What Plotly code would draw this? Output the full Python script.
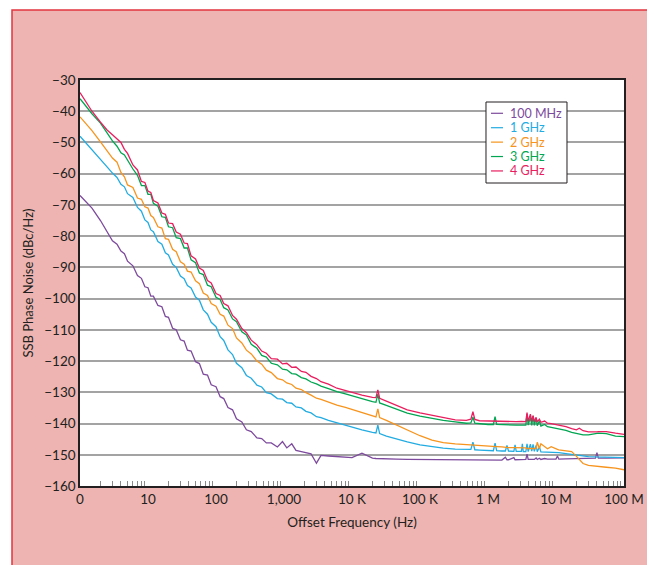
import plotly.graph_objects as go

# Offset frequency grid (Hz)
freq_hz = [
    1, 1.5, 2, 2.5, 3, 3.5, 4, 4.5, 5, 6,
    7, 8, 9, 10, 11, 12, 14, 16, 18, 20,
    23, 26, 30, 34, 38, 43, 50, 57, 65, 75,
    85, 100, 115, 130, 150, 175, 200, 240, 280, 330,
    400, 470, 550, 650, 800, 950, 1100, 1300, 1500, 1800,
    2100, 2500, 3000, 3500, 4500, 6000, 8000, 10e3, 14e3, 20e3,
    22.5e3, 24e3, 25.5e3, 32e3, 45e3, 65e3, 100e3, 150e3, 220e3, 330e3,
    480e3, 560e3, 600e3, 640e3, 750e3, 1e6, 1.2e6, 1.27e6, 1.34e6, 1.6e6,
    1.8e6, 1.9e6, 2.0e6, 2.4e6, 2.5e6, 2.6e6, 3.1e6, 3.2e6, 3.3e6, 3.6e6,
    3.75e6, 3.9e6, 4.2e6, 4.4e6, 4.6e6, 4.8e6, 5.1e6, 5.3e6, 5.7e6, 6.0e6,
    6.8e6, 7.5e6, 8.5e6, 10e6, 10.5e6, 11e6, 14e6, 17e6, 20e6, 22e6,
    25e6, 30e6, 38e6, 40e6, 42e6, 55e6, 75e6, 100e6,
]

pn_100mhz = [
    -67, -71, -75, -78.5, -81.5, -82.6, -84.8, -85.6, -88, -89.5,
    -92.6, -93.5, -96.2, -96.5, -99.2, -99.2, -102.2, -102.6, -105.7, -106,
    -109.5, -110, -113.2, -113.6, -116.5, -116.8, -120.2, -120.8, -124.2, -124.5,
    -127.6, -128.2, -131.4, -132, -134.9, -135.6, -138.5, -139.5, -142, -142.6,
    -144.6, -144.8, -146.2, -146.2, -147.5, -145.8, -147.8, -146.5, -148.6, -149,
    -149.3, -149.7, -152.7, -150.2, -150.4, -150.6, -150.8, -150.9, -149.5, -151.1,
    -151.2, -151.2, -151.2, -151.3, -151.4, -151.5, -151.5, -151.6, -151.7, -151.7,
    -151.7, -151.7, -151.7, -151.7, -151.7, -151.7, -151.7, -151.7, -151.7, -151.7,
    -150.8, -151.6, -151.6, -150.9, -151.6, -151.6, -151.6, -151.6, -151.6, -151.5,
    -149.8, -151.5, -151.5, -151.5, -151.5, -151.5, -151.0, -151.5, -151.1, -151.5,
    -151.2, -151.4, -151.4, -151.4, -150.4, -151.4, -151.3, -151.3, -151.3, -151.2,
    -151.2, -151.1, -151.1, -149.3, -151.1, -151.1, -151.0, -151.0,
]

pn_1ghz = [
    -48, -52.2, -55.5, -57.8, -59.8, -61.2, -63.4, -64.2, -66.4, -67.6,
    -70.8, -72, -74.8, -75.6, -78, -78.6, -81.7, -82.6, -85.3, -86,
    -89, -90, -92.8, -93.6, -95.8, -96.6, -99.5, -100.5, -103.6, -105,
    -107.6, -109, -112.2, -113.4, -116.4, -117.9, -120.7, -122.1, -124.6, -125.5,
    -127.7, -128.3, -130.1, -130.5, -132, -132.2, -133.3, -133.5, -134.7, -135,
    -136.1, -136.6, -137.8, -138.1, -139, -139.8, -140.5, -141, -142, -142.8,
    -143, -140.5, -143.2, -144, -145, -145.9, -146.8, -147.4, -147.9, -148.2,
    -148.3, -148.3, -146, -148.4, -148.5, -148.6, -148.7, -146.3, -148.7, -148.8,
    -148.8, -147, -148.8, -148.9, -146.8, -148.9, -148.9, -146.5, -149, -149,
    -146.5, -149, -146.6, -148.8, -146.7, -148.9, -147, -149, -147.5, -149.1,
    -149.1, -149.2, -149.2, -149.3, -149.3, -149.3, -149.6, -149.9, -150.1, -150.2,
    -150.3, -150.6, -150.7, -150.7, -150.7, -150.8, -150.9, -150.9,
]

pn_2ghz = [
    -41.8, -46.2, -49.8, -52.5, -55, -56.3, -59.6, -61, -63.6, -64.4,
    -67.8, -68.2, -70.6, -71, -73.4, -74, -77, -77.4, -80.8, -81,
    -84.2, -85, -88.2, -89, -91.2, -91.5, -94.3, -95.2, -98.2, -99,
    -101.6, -102.4, -105, -105.6, -108.5, -109.6, -112.6, -114.2, -116.5, -117.7,
    -120, -121, -122.9, -123.7, -125.6, -126, -127, -127.5, -128.7, -129.1,
    -130.1, -130.9, -131.9, -132.3, -133.2, -134.1, -134.8, -135.5, -136.5, -137.6,
    -137.9, -135.3, -138.1, -139, -140.4, -142, -143.9, -145.3, -146.1, -146.5,
    -146.8, -146.9, -146.9, -147, -147.1, -147.3, -147.4, -147.4, -147.4, -147.5,
    -147.7, -147.7, -147.7, -147.7, -147.7, -147.7, -147.8, -147.8, -147.8, -147.8,
    -148, -148, -148, -148, -148, -148, -148, -146, -148, -146.5,
    -147.3, -148.1, -147.4, -148.3, -148.3, -148.4, -148.6, -149, -150.5, -151.5,
    -152.8, -153.4, -153.7, -153.7, -153.8, -154, -154.3, -154.8,
]

pn_3ghz = [
    -36, -40.8, -43.8, -47, -49.5, -51.2, -53.3, -54, -55.8, -58.5,
    -60.5, -63.8, -63.8, -66.6, -66.6, -69.5, -70.4, -73.8, -74, -77,
    -77.3, -80.5, -80.8, -83.8, -83.8, -87.6, -88.5, -91.8, -92.3, -95.7,
    -96.2, -99.6, -100.3, -102.9, -103.6, -106.5, -107.4, -110.6, -111.6, -114.6,
    -115.9, -118.2, -118.7, -120.7, -121.2, -122.6, -122.8, -124, -124.2, -125.3,
    -125.7, -126.7, -127.3, -128, -128.8, -129.8, -130.5, -131, -132, -133,
    -133.2, -130.6, -133.4, -134.2, -135.5, -136.7, -137.6, -138.4, -139, -139.5,
    -139.9, -139.8, -138, -139.9, -140.1, -140.3, -140.3, -137.8, -140.3, -140.4,
    -140.5, -140.5, -140.5, -140.5, -140.5, -140.5, -140.5, -140.5, -140.5, -140.5,
    -137, -140.5, -138, -140.6, -137.5, -140.6, -138.3, -140.7, -139.2, -140.8,
    -140.3, -141, -141.2, -141.5, -141.6, -141.7, -142.2, -142.8, -143.2, -143.4,
    -143.6, -143.6, -143.2, -143.1, -143.1, -143.2, -144, -144.2,
]

pn_4ghz = [
    -34, -40, -43.5, -46, -47.5, -48.8, -50, -52.2, -53.5, -57.2,
    -58.8, -62.5, -62.8, -65.6, -66, -68.6, -69.4, -72.6, -73, -75.8,
    -76, -78.7, -79.4, -82.2, -82.4, -86.3, -87.3, -90.2, -91, -94.2,
    -95, -98.4, -99, -101.6, -102.3, -105.4, -106.6, -109.6, -110.9, -113.3,
    -114.8, -116.8, -117.5, -119.2, -119.4, -120.9, -120.7, -122, -121.9, -123.3,
    -123.6, -124.9, -125.6, -126.6, -127.4, -128.7, -129.5, -130.2, -130.9, -131.6,
    -131.7, -129.2, -131.9, -132.8, -134.2, -135.6, -136.6, -137.4, -138.2, -138.8,
    -139, -138.6, -136.2, -138.7, -139.1, -139.2, -139.3, -139.3, -139.3, -139.4,
    -139.4, -139.4, -139.4, -139.4, -139.4, -139.4, -139.3, -139.3, -139.3, -139.4,
    -136.5, -139.3, -137, -139.3, -137.5, -139.4, -138, -139.5, -138.6, -139.6,
    -139.2, -139.9, -140, -140.3, -140.4, -140.5, -141, -141.6, -142, -141.5,
    -142.3, -142.7, -142.8, -142.7, -142.6, -142.6, -143.1, -143.5,
]

series_names = ["100 MHz", "1 GHz", "2 GHz", "3 GHz", "4 GHz"]
series_values = [pn_100mhz, pn_1ghz, pn_2ghz, pn_3ghz, pn_4ghz]
series_colors = ["#7D4A9D", "#22ACE2", "#F7941D", "#00A651", "#E91E5F"]

x_tickvals = [1, 10, 100, 1e3, 1e4, 1e5, 1e6, 1e7, 1e8]
x_ticktext = ["0", "10", "100", "1,000", "10 K", "100 K", "1 M", "10 M", "100 M"]
x_minorvals = [m * 10 ** d for d in range(8) for m in range(2, 10)]

FONT = "Lato, 'Open Sans', sans-serif"
INK = "#231F20"

fig = go.Figure()
for name, vals, col in zip(series_names, series_values, series_colors):
    fig.add_trace(go.Scatter(
        x=freq_hz, y=vals, mode="lines", name=name,
        line=dict(color=col, width=1.3), showlegend=False,
    ))

# custom compact legend (box, short line keys, coloured labels)
LEG_X0, LEG_X1, LEG_Y0, LEG_Y1 = 0.7463, 0.8952, 0.7463, 0.9458
KEY_X0, KEY_X1, TEXT_X = 0.7555, 0.7776, 0.7868
ROW_Y0, ROW_STEP = 0.918, 0.0355

shapes = [
    dict(type="rect", xref="paper", yref="paper", layer="below",
         x0=-0.125, x1=1.0551, y0=-0.4, y1=1.1724,
         fillcolor="#EEB4B1", line=dict(color="#E4343F", width=1.5)),
    dict(type="rect", xref="paper", yref="paper", layer="below",
         x0=0, x1=1, y0=0, y1=1, fillcolor="white", line=dict(width=0)),
    dict(type="rect", xref="paper", yref="paper", layer="above",
         x0=LEG_X0, x1=LEG_X1, y0=LEG_Y0, y1=LEG_Y1,
         fillcolor="white", line=dict(color=INK, width=1)),
]
annotations = []
for i, (name, col) in enumerate(zip(series_names, series_colors)):
    yy = ROW_Y0 - i * ROW_STEP
    shapes.append(dict(type="line", xref="paper", yref="paper", layer="above",
                       x0=KEY_X0, x1=KEY_X1, y0=yy, y1=yy,
                       line=dict(color=col, width=1.2)))
    annotations.append(dict(xref="paper", yref="paper", x=TEXT_X, y=yy,
                            xanchor="left", yanchor="middle", showarrow=False,
                            text=name, font=dict(color=col, size=12.5, family=FONT)))

fig.update_layout(
    width=647, height=557,
    margin=dict(l=72, r=31, t=72, b=79, autoexpand=False),
    paper_bgcolor="white", plot_bgcolor="white",
    font=dict(family=FONT, color=INK, size=13.5),
    showlegend=False,
    shapes=shapes,
    annotations=annotations,
)

fig.update_xaxes(
    type="log", range=[0, 8],
    tickmode="array", tickvals=x_tickvals, ticktext=x_ticktext,
    ticks="", showgrid=False, zeroline=False,
    showline=True, linecolor=INK, linewidth=1.5, mirror=True,
    tickfont=dict(size=13.5),
    minor=dict(tickmode="array", tickvals=x_minorvals, ticks="inside",
               ticklen=5, tickcolor="#8A8A8A", tickwidth=1, showgrid=False),
    title=dict(text="Offset Frequency (Hz)", font=dict(size=13.5), standoff=12),
)
fig.update_yaxes(
    range=[-160, -30], dtick=10, tick0=-160,
    ticks="", showgrid=True, gridcolor="#A3A3A3", gridwidth=2, zeroline=False,
    showline=True, linecolor=INK, linewidth=1.5, mirror=True,
    tickfont=dict(size=13.5),
    title=dict(text="SSB Phase Noise (dBc/Hz)", font=dict(size=13), standoff=8),
)

fig.write_html("out.html")
